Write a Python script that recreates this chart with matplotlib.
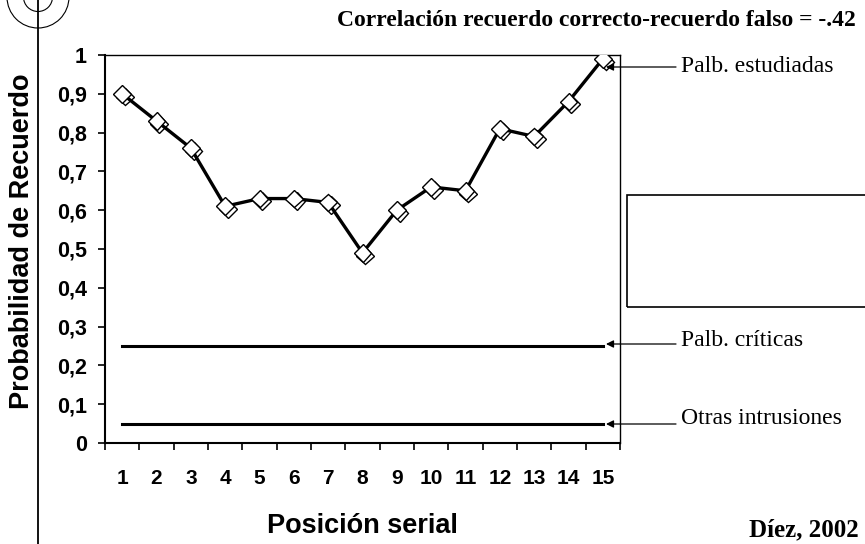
import matplotlib
matplotlib.use('Agg')
import matplotlib.pyplot as plt
import matplotlib.patheffects as pe
from matplotlib.patches import Circle, Rectangle
from matplotlib.lines import Line2D

positions = list(range(1, 16))
studied = [0.90, 0.83, 0.76, 0.61, 0.63, 0.63, 0.62, 0.49, 0.60, 0.66, 0.65, 0.81, 0.79, 0.88, 0.99]
critical = [0.25] * 15
intrusions = [0.05] * 15
ytick_vals = [0, 0.1, 0.2, 0.3, 0.4, 0.5, 0.6, 0.7, 0.8, 0.9, 1]
ytick_labels = ['0', '0,1', '0,2', '0,3', '0,4', '0,5', '0,6', '0,7', '0,8', '0,9', '1']

W, H = 865, 544
fig = plt.figure(figsize=(W / 100, H / 100), dpi=100)
ax = fig.add_axes([105 / W, 1 - 443 / H, (620 - 105) / W, (443 - 55) / H])

SANS = 'Liberation Sans'
SERIF = 'Liberation Serif'

ax.plot(positions, studied, color='black', lw=2.4, zorder=4)
ax.plot(positions, studied, ls='none', marker='D', ms=9,
        mfc='white', mec='black', mew=1, zorder=5,
        path_effects=[pe.SimpleLineShadow(offset=(2, -2), shadow_color='black', alpha=1), pe.Normal()])
ax.plot(positions, critical, color='black', lw=2.2, zorder=4)
ax.plot(positions, intrusions, color='black', lw=2.2, zorder=4)

ax.set_xlim(0.5, 15.5)
ax.set_ylim(0, 1)
ax.set_yticks(ytick_vals)
ax.set_yticklabels(ytick_labels, fontfamily=SANS, fontweight='bold', fontsize=15.5)
ax.set_xticks([p - 0.5 for p in positions] + [15.5])
ax.set_xticklabels([])
ax.set_xticks(positions, minor=True)
ax.set_xticklabels([str(p) for p in positions], minor=True, fontfamily=SANS, fontweight='bold', fontsize=15)
ax.tick_params(axis='x', which='minor', length=0, pad=19)
ax.tick_params(axis='both', which='major', direction='out', length=5, width=1.2, pad=8)

for s in ['left', 'bottom']:
    ax.spines[s].set_linewidth(1.5)
ax.spines['top'].set_linewidth(1.0)
ax.spines['right'].set_linewidth(1.0)

ax.set_ylabel('Probabilidad de Recuerdo', fontfamily=SANS, fontweight='bold', fontsize=19.5)
ax.yaxis.set_label_coords(-0.136, 0.52)
ax.set_xlabel('Posición serial', fontfamily=SANS, fontweight='bold', fontsize=19.5)
ax.xaxis.set_label_coords(0.5, -0.18)

fig.text(856 / W, 1 - 21 / H, 'Correlación recuerdo correcto-recuerdo falso = -.42',
         ha='right', va='center', fontfamily=SERIF, fontweight='bold', fontsize=17)
fig.text(749 / W, 1 - 530 / H, 'Díez, 2002', ha='left', va='center',
         fontfamily=SERIF, fontweight='bold', fontsize=18)

# labels with horizontal arrows pointing at the end of each series
arrow = dict(arrowstyle='-|>', color='black', lw=0.9, mutation_scale=11, shrinkA=0, shrinkB=0)
for label, text_y, arrow_y in [('Palb. estudiadas', 67, 67),
                               ('Palb. críticas', 341, 344),
                               ('Otras intrusiones', 418, 424)]:
    fig.text(681 / W, 1 - text_y / H, label, ha='left', va='center',
             fontfamily=SERIF, fontsize=17)
    ax.annotate('', xy=(606 / W, 1 - arrow_y / H), xycoords='figure fraction',
                xytext=(676 / W, 1 - arrow_y / H), textcoords='figure fraction',
                arrowprops=arrow, annotation_clip=False)

# decorative frame parts
fig.add_artist(Rectangle((627 / W, 1 - 307 / H), 300 / W, 112 / H, transform=fig.transFigure,
                         fill=False, ec='black', lw=1.2))
fig.add_artist(Line2D([38 / W, 38 / W], [0, 1], transform=fig.transFigure, color='black', lw=1.3))
for r in (31, 14.5):
    fig.add_artist(Circle((38, H + 3), r, transform=None, fill=False, ec='black', lw=0.8))

fig.savefig('out.png', dpi=100)
